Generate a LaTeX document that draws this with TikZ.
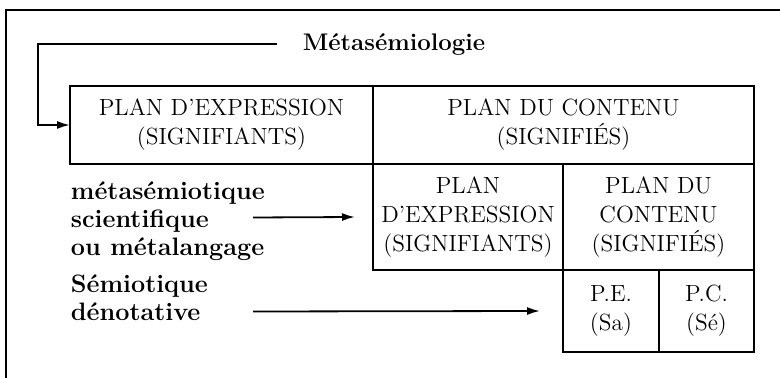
\documentclass[tikz,border=0pt]{standalone}
\usetikzlibrary{arrows.meta,positioning}

\begin{document}
\begin{tikzpicture}[x=0.5pt,y=-0.5pt,line width=0.9pt,
  cell/.style={draw,align=center,inner sep=0pt,outer sep=0pt,anchor=north west,
    font=\fontsize{11.7}{14.5}\selectfont},
  lab/.style={anchor=west,align=left,inner sep=0pt,font=\fontsize{12.6}{14}\selectfont\bfseries},
  arr/.style={-{Latex[length=6.5pt,width=4pt]}}]
\useasboundingbox (0,0) rectangle (780,378);
\draw (780,10) -- (6,10) -- (6,378);
\node (title) at (394,44) [inner sep=0pt,font=\fontsize{12}{14}\selectfont\bfseries] {Métasémiologie};
\node (pe1) at (70,86) [cell,minimum width=151.5pt,minimum height=39pt] {PLAN D'EXPRESSION\\(SIGNIFIANTS)};
\node (pc1) at (pe1.north east) [cell,minimum width=190.5pt,minimum height=39pt] {PLAN DU CONTENU\\(SIGNIFIÉS)};
\node (pe2) at (pe1.south east) [cell,minimum width=95pt,minimum height=53pt] {PLAN\\D'EXPRESSION\\(SIGNIFIANTS)};
\node (pc2) at (pe2.north east) [cell,minimum width=95.5pt,minimum height=53pt] {PLAN DU\\CONTENU\\(SIGNIFIÉS)};
\node (pe3) at (pc2.south west) [cell,minimum width=48pt,minimum height=41pt] {P.E.\\(Sa)};
\node (pc3) at (pe3.north east) [cell,minimum width=47.5pt,minimum height=41pt] {P.C.\\(Sé)};
\node (meta) at (70,221) [lab] {métasémiotique\\scientifique\\ou métalangage};
\node (deno) at (70,298) [lab] {Sémiotique\\dénotative};
\coordinate (m1) at (253,217.5);
\coordinate (m2) at (253,311.5);
% bracket from the title down to the first row
\draw[arr] ([xshift=-12.5pt]title.west) -- (38,44) |- (pe1.west);
\draw[arr] (m1) -- ([xshift=-9pt]pe2.west);
\draw[arr] (m2) -- ([xshift=-11.5pt]pe3.west);
\end{tikzpicture}
\end{document}
